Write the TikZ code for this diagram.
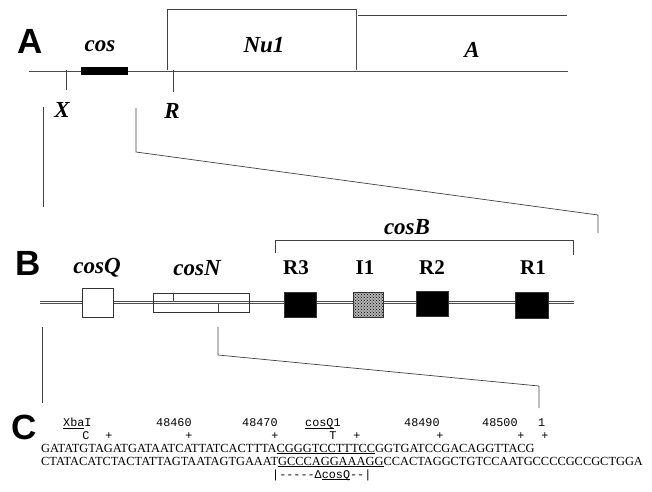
\documentclass[tikz,border=0pt]{standalone}
\usepackage{fontspec}
\setmainfont{Liberation Serif}
\setsansfont{Liberation Sans}
\setmonofont{Liberation Mono}
\usetikzlibrary{positioning, patterns, calc}

\begin{document}
\begin{tikzpicture}[
    x=1pt, y=-1pt,
    dna/.style={draw=black!70, double=white, double distance=1.6pt, line width=0.7pt},
    rule/.style={draw=black!75, line width=0.7pt},
    panel/.style={font=\sffamily\bfseries\fontsize{35}{35}\selectfont, inner sep=0pt},
    gene/.style={font=\bfseries\itshape\fontsize{23}{23}\selectfont, inner sep=0pt},
    rptlabel/.style={font=\bfseries\fontsize{21}{21}\selectfont, inner sep=0pt},
    site/.style={draw=black!80, line width=0.6pt, fill=black, inner sep=0pt,
        minimum width=32pt, minimum height=25pt},
    seq/.style={font=\fontsize{12.4}{12.4}\selectfont, inner sep=0pt, anchor=base west},
    mono/.style={font=\ttfamily\fontsize{11.8}{11.8}\selectfont, inner sep=0pt, anchor=base west},
    tickmark/.style={font=\ttfamily\fontsize{11.8}{11.8}\selectfont, inner sep=0pt, anchor=base}
]
    \useasboundingbox (0,0) rectangle (652,491);

    % Panel A: map of the cos end
    \node[panel] (labA) at (30,41) {A};
    \coordinate (aW) at (29,70);
    \coordinate (aE) at (568,70);
    \coordinate (nuL) at (167,70);
    \coordinate (nuR) at (357,70);
    \coordinate (aTopW) at (358,15);
    \coordinate (aTopE) at (567,15);
    \draw[dna] (aW) -- (aE);
    \draw[rule] (nuL) |- ($(nuR)+(0,-61)$);
    \draw[dna, double distance=1pt, line width=0.6pt] ($(nuR)+(0,-61)$) -- (nuR);
    \draw[rule] (aTopW) -- (aTopE);
    \node[draw=black, fill=black, inner sep=0pt, minimum width=46pt, minimum height=6.5pt]
        (cos) at (104,70.5) {};
    \node[gene] (cosA) at (100,46) {cos};
    \node[gene] (nu1) at (264,45) {Nu1};
    \node[gene] (geneA) at (472,50) {A};

    \coordinate (xTop) at (66,70);
    \coordinate (xBot) at (66,90);
    \coordinate (rTop) at (173,70);
    \coordinate (rBot) at (173,92);
    \draw[rule] (xTop) -- (xBot);
    \draw[rule] (rTop) -- (rBot);
    \node[gene] (xba) at (62,110) {X};
    \node[gene] (eco) at (172,111) {R};

    % zoom A -> B
    \coordinate (zA1) at (43,107);
    \coordinate (zA2) at (43,207);
    \coordinate (zA3) at (136,108);
    \coordinate (zA4) at (136,152);
    \coordinate (zA5) at (598,215);
    \coordinate (zA6) at (598,233);
    \draw[rule] (zA1) -- (zA2);
    \draw[rule] (zA3) -- (zA4) -- (zA5) -- (zA6);

    % Panel B: the cos site
    \node[panel] (labB) at (28,263) {B};
    \coordinate (bW) at (40,302.5);
    \coordinate (bE) at (574,302.5);
    \draw[dna] (bW) -- (bE);

    \node[site, fill=white, minimum width=31pt, minimum height=29pt] (cosQ) at (97.5,302.5) {};
    \node[draw=black!80, line width=0.6pt, inner sep=0pt, minimum width=96pt, minimum height=19pt]
        (cosN) at (201,302.5) {};
    \draw[rule, line width=0.6pt] ($(cosN.north west)+(21,0)$) -- ++(0,8);
    \draw[rule, line width=0.6pt] ($(cosN.south west)+(66,0)$) -- ++(0,-8);
    \node[site] (r3) at (300.5,304.5) {};
    \node[site, fill=none, minimum width=30pt, preaction={fill=gray!60},
        pattern=crosshatch dots, pattern color=black] (i1) at (368,304.5) {};
    \node[site] (r2) at (432,304) {};
    \node[site, minimum width=33pt, minimum height=26pt] (r1) at (531.5,305) {};

    \node[gene] (cosQT) at (97,268) {cosQ};
    \node[gene] (cosNT) at (197,268) {cosN};
    \node[rptlabel] (r3T) at (296,268) {R3};
    \node[rptlabel] (i1T) at (365,268) {I1};
    \node[rptlabel] (r2T) at (432,268) {R2};
    \node[rptlabel] (r1T) at (533,268) {R1};

    \coordinate (cbL) at (275,253);
    \coordinate (cbR) at (573,255);
    \draw[rule] (cbL) |- (573,240) -- (cbR);
    \node[gene] (cosB) at (407,227) {cosB};

    % zoom B -> C
    \coordinate (zB1) at (42,327);
    \coordinate (zB2) at (42,403);
    \coordinate (zB3) at (218,327);
    \coordinate (zB4) at (218,355);
    \coordinate (zB5) at (539,386);
    \coordinate (zB6) at (539,408);
    \draw[rule] (zB1) -- (zB2);
    \draw[rule] (zB3) -- (zB4) -- (zB5) -- (zB6);

    % Panel C: sequence
    \node[panel] (labC) at (24,427) {C};
    \node[mono] (xbaI) at (63,426.5) {\underline{\smash{Xba}}I};
    \node[mono] (n460) at (156,426.5) {48460};
    \node[mono] (n470) at (242,426.5) {48470};
    \node[mono] (cq1) at (305,426.5) {\underline{\smash{cosQ}}1};
    \node[mono] (n490) at (404,426.5) {48490};
    \node[mono] (n500) at (482,426.5) {48500};
    \node[mono] (one) at (538,426.5) {1};

    \node[tickmark] (mC) at (86,439.5) {C};
    \node[tickmark] (p1) at (109,439.5) {+};
    \node[tickmark] (p2) at (189,439.5) {+};
    \node[tickmark] (p3) at (275,439.5) {+};
    \node[tickmark] (mT) at (333,439.5) {T};
    \node[tickmark] (p4) at (357,439.5) {+};
    \node[tickmark] (p5) at (440,439.5) {+};
    \node[tickmark] (p6) at (521,439.5) {+};
    \node[tickmark] (p7) at (545,439.5) {+};

    \node[seq] (top) at (41,452)
        {GATATGTAGATGATAATCATTATCACTTTA\underline{CGGGTCCTTTCC}GGTGATCCGACAGGTTACG};
    \node[seq] (bot) at (41,465)
        {CTATACATCTACTATTAGTAATAGTGAAAT\underline{GCCCAGGAAAGG}CCACTAGGCTGTCCAATGCCCCGCCGCTGGA};
    \node[mono] (del) at (272,478) {|-{}-{}-{}-{}-Δ\underline{\smash{cosQ}}-{}-|};
\end{tikzpicture}
\end{document}
